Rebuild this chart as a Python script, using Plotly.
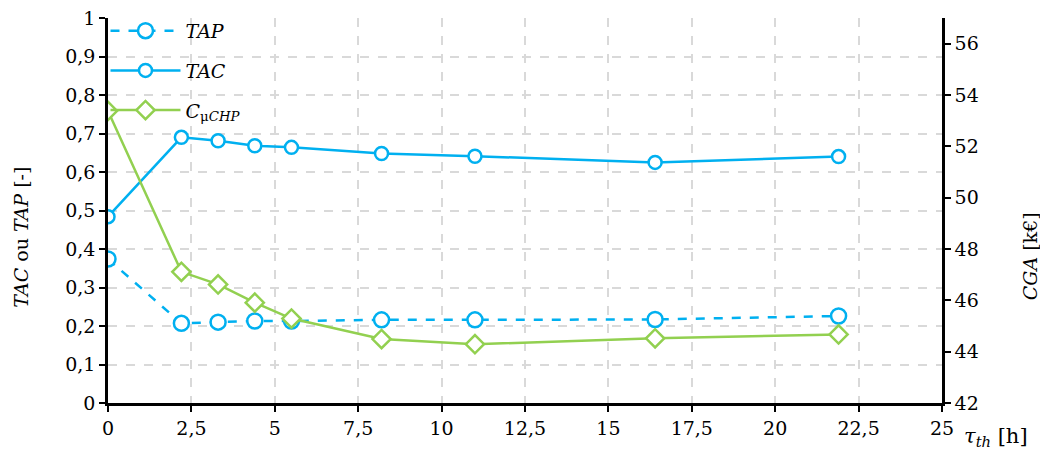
import plotly.graph_objects as go

tau = [0, 2.2, 3.3, 4.4, 5.5, 8.2, 11.0, 16.4, 21.9]
tap = [0.374, 0.207, 0.210, 0.213, 0.213, 0.216, 0.216, 0.217, 0.226]
tac = [0.484, 0.690, 0.681, 0.668, 0.664, 0.648, 0.641, 0.625, 0.640]
cga = [53.38, 47.11, 46.62, 45.91, 45.29, 44.49, 44.29, 44.52, 44.67]

BLUE = "#00B0F0"
GREEN = "#92D050"
FONT = "DejaVu Serif"
FS = 19

fig = go.Figure()
fig.add_trace(go.Scatter(
    x=tau, y=tap, name="<i>TAP</i>", mode="lines+markers", legendgroup="a",
    line=dict(color=BLUE, width=2.5, dash="dash"),
    marker=dict(symbol="circle", size=15, color="white", line=dict(color=BLUE, width=2.5))))
fig.add_trace(go.Scatter(
    x=tau, y=tac, name="<i>TAC</i>", mode="lines+markers", legendgroup="b",
    line=dict(color=BLUE, width=2.5),
    marker=dict(symbol="circle", size=13, color="white", line=dict(color=BLUE, width=2.5))))
fig.add_trace(go.Scatter(
    x=tau, y=cga, name="<i>C</i><sub>μ<i>CHP</i></sub>", mode="lines+markers", legendgroup="c",
    yaxis="y2",
    line=dict(color=GREEN, width=2.5),
    marker=dict(symbol="diamond", size=14, color="white", line=dict(color=GREEN, width=2.5))))

axis_common = dict(
    showline=True, linecolor="black", linewidth=2.5, ticks="outside", ticklen=6,
    tickwidth=2, tickcolor="black", zeroline=False, automargin=False,
    ticklabeloverflow="allow")

fig.update_layout(
    width=1040, height=445,
    margin=dict(l=100, r=106, t=10, b=50, autoexpand=False),
    paper_bgcolor="white", plot_bgcolor="white",
    separators=", ",
    font=dict(family=FONT, size=FS, color="black"),
    xaxis=dict(range=[0, 25], dtick=2.5, tick0=0, showgrid=True, gridcolor="#D9D9D9",
               gridwidth=1.5, griddash="dash", tickfont=dict(family=FONT, size=FS),
               **axis_common),
    yaxis=dict(range=[0, 1], dtick=0.1, tick0=0, showgrid=True, gridcolor="#D9D9D9",
               gridwidth=1.5, griddash="dash", tickfont=dict(family=FONT, size=FS),
               **axis_common),
    yaxis2=dict(range=[42, 57], dtick=2, tick0=42, overlaying="y", side="right",
                showgrid=False, tickfont=dict(family=FONT, size=FS), **axis_common),
    legend=dict(x=-0.003, y=1.016, xanchor="left", yanchor="top", bgcolor="rgba(0,0,0,0)",
                traceorder="grouped", tracegroupgap=12, itemwidth=70,
                font=dict(family=FONT, size=FS, color="black")),
    showlegend=True,
)

fig.add_annotation(text="<i>TAC</i> ou <i>TAP</i> [-]", xref="paper", yref="paper",
                   x=-0.104, y=0.43, textangle=-90, showarrow=False,
                   xanchor="center", yanchor="middle", font=dict(family=FONT, size=FS))
fig.add_annotation(text="<i>CGA</i> [k€]", xref="paper", yref="paper",
                   x=1.105, y=0.38, textangle=-90, showarrow=False,
                   xanchor="center", yanchor="middle", font=dict(family=FONT, size=FS))
fig.add_annotation(text="<i>τ</i><sub><i>th</i></sub> [h]", xref="paper", yref="paper",
                   x=1.065, y=-0.088, showarrow=False,
                   xanchor="center", yanchor="middle", font=dict(family=FONT, size=21))

fig.write_html("out.html")
